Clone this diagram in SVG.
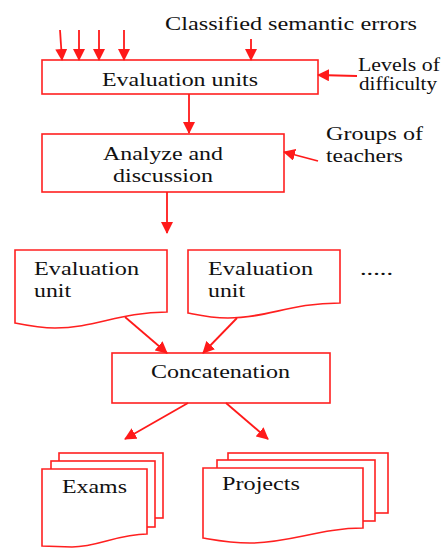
<svg xmlns="http://www.w3.org/2000/svg" width="442" height="548" viewBox="0 0 442 548">
<style>
.b{fill:#fff;stroke:#ff2020;stroke-width:1.6}
.c{stroke:#ff1a1a;stroke-width:1.8;fill:none;marker-end:url(#ah)}
.t{font-family:'Liberation Serif','DejaVu Serif',serif;font-size:19px;fill:#111}
.s{font-size:18px}
</style>
<defs>
<marker id="ah" viewBox="0 0 12 12" refX="11" refY="6" markerWidth="12" markerHeight="12" markerUnits="userSpaceOnUse" orient="auto">
<path d="M0,0 L12,6 L0,12 z" fill="#ff1a1a"/>
</marker>
</defs>
<rect width="442" height="548" fill="#fff"/>
<g id="labels" class="t">
<text x="165" y="30" textLength="252" lengthAdjust="spacingAndGlyphs">Classified semantic errors</text>
<text class="s" x="358" y="71" textLength="82" lengthAdjust="spacingAndGlyphs">Levels of</text>
<text class="s" x="359" y="90" textLength="78" lengthAdjust="spacingAndGlyphs">difficulty</text>
<text x="326" y="140" textLength="97" lengthAdjust="spacingAndGlyphs">Groups of</text>
<text x="326" y="162" textLength="77" lengthAdjust="spacingAndGlyphs">teachers</text>
<text x="360" y="275" textLength="33" lengthAdjust="spacingAndGlyphs">.....</text>
</g>
<g id="evaluation-units" class="t">
<rect class="b" x="42" y="60" width="276" height="34"/>
<text x="102" y="86" textLength="156" lengthAdjust="spacingAndGlyphs">Evaluation units</text>
</g>
<g id="analyze" class="t">
<rect class="b" x="42" y="134" width="242" height="58"/>
<text x="103" y="160" textLength="120" lengthAdjust="spacingAndGlyphs">Analyze and</text>
<text x="113" y="182" textLength="100" lengthAdjust="spacingAndGlyphs">discussion</text>
</g>
<g id="eval-unit-1" class="t">
<path class="b" d="M15,250 H167 V312 C120,312 95,328 55,328 C40,328 25,325 15,323 Z"/>
<text x="34" y="275" textLength="105" lengthAdjust="spacingAndGlyphs">Evaluation</text>
<text x="34" y="297" textLength="37" lengthAdjust="spacingAndGlyphs">unit</text>
</g>
<g id="eval-unit-2" class="t">
<path class="b" d="M188,250 H340 V303 C290,303 268,318 228,318 C210,318 198,315 188,313 Z"/>
<text x="208" y="275" textLength="105" lengthAdjust="spacingAndGlyphs">Evaluation</text>
<text x="208" y="297" textLength="37" lengthAdjust="spacingAndGlyphs">unit</text>
</g>
<g id="concatenation" class="t">
<rect class="b" x="112" y="353" width="218" height="50"/>
<text x="151" y="378" textLength="139" lengthAdjust="spacingAndGlyphs">Concatenation</text>
</g>
<g id="exams" class="t">
<rect class="b" x="59" y="453" width="104" height="65"/>
<rect class="b" x="51" y="461" width="104" height="66"/>
<path class="b" d="M42,469 H147 V534 C118,534 98,547 72,547 L42,546 Z"/>
<text x="62" y="493" textLength="65" lengthAdjust="spacingAndGlyphs">Exams</text>
</g>
<g id="projects" class="t">
<rect class="b" x="228" y="453" width="160" height="60"/>
<rect class="b" x="217" y="460" width="158" height="61"/>
<path class="b" d="M203,468 H363 V528 C320,528 290,543 250,543 C230,543 215,540 203,538 Z"/>
<text x="222" y="490" textLength="78" lengthAdjust="spacingAndGlyphs">Projects</text>
</g>
<g id="connectors">
<line class="c" x1="60" y1="30" x2="62" y2="60"/>
<line class="c" x1="79" y1="30" x2="79" y2="60"/>
<line class="c" x1="99" y1="30" x2="99" y2="60"/>
<line class="c" x1="124" y1="30" x2="124" y2="60"/>
<line class="c" x1="251" y1="39" x2="251" y2="60"/>
<line class="c" x1="357" y1="76" x2="318" y2="75"/>
<line class="c" x1="189" y1="94" x2="189" y2="133"/>
<line class="c" x1="318" y1="161" x2="284" y2="152"/>
<line class="c" x1="167" y1="192" x2="167" y2="233"/>
<line class="c" x1="125" y1="317" x2="167" y2="353"/>
<line class="c" x1="237" y1="318" x2="203" y2="353"/>
<line class="c" x1="188" y1="403" x2="125" y2="439"/>
<line class="c" x1="226" y1="403" x2="268" y2="439"/>
</g>
</svg>
